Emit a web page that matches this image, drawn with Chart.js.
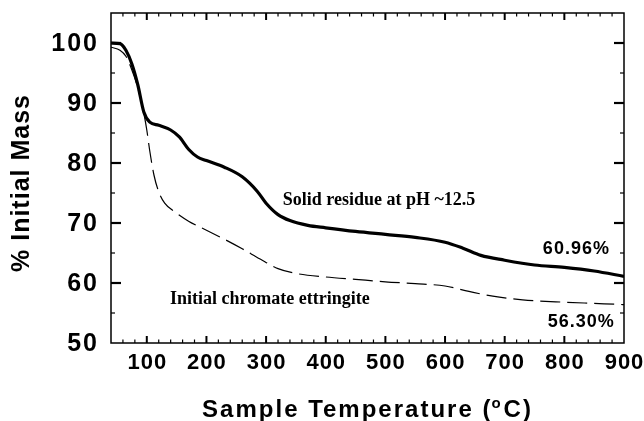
<!DOCTYPE html>
<html>
<head>
<meta charset="utf-8">
<script src="https://cdn.jsdelivr.net/npm/chart.js@4.4.0/dist/chart.umd.min.js"></script>
<style>
  html, body { margin: 0; background: #fff; }
  #wrap { width: 644px; height: 421px; }
</style>
</head>
<body>
<div id="wrap"><canvas id="tga"></canvas></div>
<script>
// tick labels
const xTicks = [100, 200, 300, 400, 500, 600, 700, 800, 900];
const yTicks = [50, 60, 70, 80, 90, 100];

// solid residue at pH ~12.5 (thick solid line)
const residueTemp = [40, 55, 65, 75, 85, 95, 105, 120, 140, 155, 170, 185, 200, 230, 260, 285, 300, 320, 340, 370, 400, 450, 500, 550, 600, 630, 660, 700, 750, 800, 850, 900];
const residueMass = [100, 99.9, 98.8, 96.5, 93, 88.5, 86.8, 86.3, 85.5, 84.3, 82.3, 81, 80.4, 79.3, 77.7, 75.3, 73.3, 71.4, 70.4, 69.6, 69.2, 68.6, 68.1, 67.6, 66.8, 65.8, 64.6, 63.8, 63.0, 62.6, 62.0, 61.1];

// initial chromate ettringite (thin dashed line)
const ettringiteTemp = [40, 55, 65, 75, 85, 95, 100, 105, 112, 120, 130, 145, 170, 200, 230, 260, 290, 320, 350, 400, 450, 500, 550, 600, 640, 680, 730, 800, 850, 900];
const ettringiteMass = [99.3, 98.8, 97.8, 95.5, 92.5, 88.3, 85.5, 82, 78, 75.2, 73.3, 72, 70.3, 68.8, 67.3, 65.7, 64, 62.4, 61.6, 61, 60.6, 60.2, 59.9, 59.5, 58.6, 57.8, 57.2, 56.8, 56.6, 56.4];

const residueLabel = 'Solid residue at pH ~12.5';
const ettringiteLabel = 'Initial chromate ettringite';
const residueFinal = '60.96%';
const ettringiteFinal = '56.30%';

const toPoints = (xs, ys) => xs.map((x, i) => ({ x: x, y: ys[i] }));

// frame, inward ticks, labels and titles
const framePlugin = {
  id: 'frame',
  afterDraw(chart) {
    const ctx = chart.ctx;
    const a = chart.chartArea;
    const xs = chart.scales.x, ys = chart.scales.y;
    ctx.save();
    ctx.strokeStyle = '#000';
    ctx.fillStyle = '#000';

    ctx.lineWidth = 1.5;
    ctx.strokeRect(a.left, a.top, a.right - a.left, a.bottom - a.top);

    const tick = (x1, y1, x2, y2, w) => {
      ctx.lineWidth = w;
      ctx.beginPath();
      ctx.moveTo(x1, y1);
      ctx.lineTo(x2, y2);
      ctx.stroke();
    };
    for (let t = 60; t < 900; t += 20) {
      const px = xs.getPixelForValue(t);
      const major = t % 100 === 0;
      const len = major ? 7 : 3.5;
      const w = major ? 2 : 1.2;
      tick(px, a.bottom, px, a.bottom - len, w);
      tick(px, a.top, px, a.top + len, w);
    }
    for (let v = 55; v < 105; v += 5) {
      const py = ys.getPixelForValue(v);
      const major = v % 10 === 0;
      const len = major ? 10 : 4;
      const w = major ? 2.2 : 1.2;
      tick(a.left, py, a.left + len, py, w);
      tick(a.right, py, a.right - len, py, w);
    }

    // tick labels
    ctx.letterSpacing = '2px';
    ctx.font = 'bold 25px "Liberation Sans", Arial, sans-serif';
    ctx.textAlign = 'right';
    ctx.textBaseline = 'middle';
    yTicks.forEach(v => ctx.fillText(String(v), a.left - 12, ys.getPixelForValue(v) + 1));

    ctx.letterSpacing = '1px';
    ctx.font = 'bold 22px "Liberation Sans", Arial, sans-serif';
    ctx.textAlign = 'center';
    xTicks.forEach(v => ctx.fillText(String(v), xs.getPixelForValue(v) + 0.5, 363));

    // y title
    ctx.save();
    ctx.translate(22, 183);
    ctx.rotate(-Math.PI / 2);
    ctx.font = 'bold 25px "Liberation Sans", Arial, sans-serif';
    ctx.letterSpacing = '1px';
    ctx.fillText('% Initial Mass', 0, 0);
    ctx.restore();

    // x title with superscript o
    ctx.letterSpacing = '2px';
    ctx.textAlign = 'left';
    ctx.textBaseline = 'alphabetic';
    const big = 'bold 24px "Liberation Sans", Arial, sans-serif';
    const small = 'bold 15px "Liberation Sans", Arial, sans-serif';
    const p1 = 'Sample Temperature (', p2 = 'o', p3 = 'C)';
    ctx.font = big;
    const w1 = ctx.measureText(p1).width, w3 = ctx.measureText(p3).width;
    ctx.font = small;
    const w2 = ctx.measureText(p2).width;
    let tx = (a.left + a.right) / 2 - (w1 + w2 + w3) / 2;
    const base = 417;
    ctx.font = big; ctx.fillText(p1, tx, base); tx += w1;
    ctx.font = small; ctx.fillText(p2, tx - 1, base - 9); tx += w2;
    ctx.font = big; ctx.fillText(p3, tx, base);

    // curve annotations
    ctx.letterSpacing = '0px';
    ctx.textBaseline = 'middle';
    ctx.font = 'bold 18px "Liberation Serif", "Times New Roman", serif';
    ctx.fillText(residueLabel, xs.getPixelForValue(328), ys.getPixelForValue(73.8));
    ctx.fillText(ettringiteLabel, xs.getPixelForValue(139), ys.getPixelForValue(57.2));

    ctx.letterSpacing = '1px';
    ctx.font = 'bold 18px "Liberation Sans", Arial, sans-serif';
    ctx.fillText(residueFinal, xs.getPixelForValue(764), ys.getPixelForValue(65.7));
    ctx.fillText(ettringiteFinal, xs.getPixelForValue(772), ys.getPixelForValue(53.5));
    ctx.restore();
  }
};

new Chart(document.getElementById('tga').getContext('2d'), {
  type: 'line',
  data: {
    datasets: [
      {
        label: ettringiteLabel,
        data: toPoints(ettringiteTemp, ettringiteMass),
        borderColor: '#000',
        borderWidth: 1.2,
        borderDash: [20, 7],
        pointRadius: 0,
        cubicInterpolationMode: 'monotone'
      },
      {
        label: residueLabel,
        data: toPoints(residueTemp, residueMass),
        borderColor: '#000',
        borderWidth: 3.2,
        pointRadius: 0,
        cubicInterpolationMode: 'monotone'
      }
    ]
  },
  options: {
    responsive: true,
    maintainAspectRatio: false,
    animation: false,
    layout: { padding: { top: 13, right: 20, left: 0, bottom: 0 } },
    plugins: { legend: { display: false }, tooltip: { enabled: false } },
    scales: {
      x: {
        type: 'linear', min: 40, max: 900,
        grid: { display: false }, border: { display: false },
        ticks: { display: false },
        afterFit: s => { s.height = 78; }
      },
      y: {
        min: 50, max: 105,
        grid: { display: false }, border: { display: false },
        ticks: { display: false },
        afterFit: s => { s.width = 111; }
      }
    }
  },
  plugins: [framePlugin]
});
</script>
</body>
</html>
